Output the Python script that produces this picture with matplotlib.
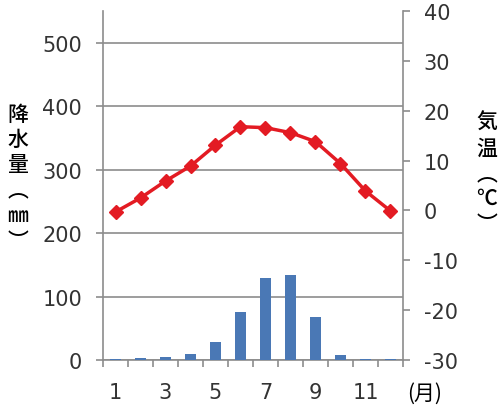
import matplotlib
matplotlib.use("Agg")
import matplotlib.pyplot as plt
import numpy as np

plt.rcParams['font.family'] = ['Noto Sans CJK JP', 'DejaVu Sans']
plt.rcParams['axes.unicode_minus'] = False

months = np.arange(1, 13)
precip = [2, 3, 4, 9, 29, 76, 130, 134, 68, 8, 1.5, 1]
temp = [-0.3, 2.5, 5.9, 8.9, 13.1, 16.8, 16.6, 15.6, 13.8, 9.4, 3.9, -0.1]
xlabels = ['1', '', '3', '', '5', '', '7', '', '9', '', '11', '']

grey = '#8c8c8c'

fig = plt.figure(figsize=(5, 4.14), dpi=100)
ax = fig.add_axes([0.206, 0.128, 0.6, 0.843])
ax.bar(months, precip, width=0.46, color='#4a78b5', zorder=3)
ax.set_xlim(0.5, 12.5)
ax.set_ylim(0, 550)
ax.set_yticks(range(0, 501, 100))
ax.yaxis.grid(True, color=grey, lw=1.2, zorder=0)
ax.set_xticks(months)
ax.set_xticklabels(xlabels)
ax.set_xticks(np.arange(0.5, 13, 1), minor=True)
ax.tick_params(axis='x', which='major', length=0, pad=16)
ax.tick_params(axis='x', which='minor', length=5, color=grey, width=1.2)
ax.tick_params(axis='y', length=5, color=grey, width=1.2, pad=10)
for s in ['top', 'right']:
    ax.spines[s].set_visible(False)
for s in ['left', 'bottom']:
    ax.spines[s].set_color(grey)
    ax.spines[s].set_linewidth(1.2)

ax2 = ax.twinx()
ax2.plot(months, temp, color='#e31b23', lw=2.5, marker='D', ms=7.5, zorder=3)
ax2.set_ylim(-30, 40)
ax2.set_yticks(range(-30, 41, 10))
ax2.tick_params(axis='y', length=5, color=grey, width=1.2, pad=10)
for s in ['top', 'left', 'bottom']:
    ax2.spines[s].set_visible(False)
ax2.spines['right'].set_color(grey)
ax2.spines['right'].set_linewidth(1.2)

for lbl in ax.get_yticklabels() + ax2.get_yticklabels() + ax.get_xticklabels():
    lbl.set_fontfamily('DejaVu Sans')
    lbl.set_fontsize(15)
    lbl.set_color('#333333')

fig.text(0.036, 0.57, '降\n水\n量\n︵\n㎜\n︶', ha='center', va='center',
         fontsize=15, fontweight='medium', linespacing=1.2)
fig.text(0.974, 0.58, '気\n温\n︵\n℃\n︶', ha='center', va='center',
         fontsize=15, fontweight='medium', linespacing=1.2)
fig.text(0.85, 0.05, '(月)', ha='center', va='center', fontsize=15)

fig.savefig('out.png', dpi=100)
